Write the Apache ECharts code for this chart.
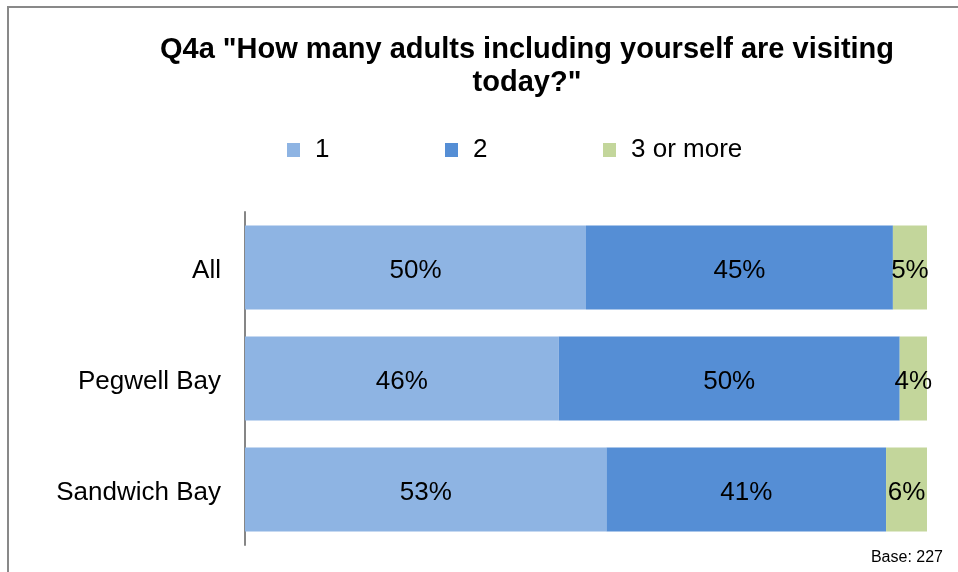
<!DOCTYPE html>
<html>
<head>
<meta charset="utf-8">
<script src="https://cdn.jsdelivr.net/npm/echarts@6/dist/echarts.min.js"></script>
<style>
  html, body { margin: 0; padding: 0; background: #fff; }
  #chart { width: 958px; height: 572px; }
</style>
</head>
<body>
<div id="chart"></div>
<script>
// Share of visiting groups by number of adults, per site
var categories = ['All', 'Pegwell Bay', 'Sandwich Bay'];
var seriesNames = ['1', '2', '3 or more'];
var oneAdult = [50, 46, 53];
var twoAdults = [45, 50, 41];
var threePlus = [5, 4, 6];
var baseNote = 'Base: 227';

var colors = ['#8EB4E3', '#558ED5', '#C3D69B'];
var font = "'Liberation Sans', Arial, sans-serif";

function barSeries(name, values, color) {
  return {
    name: name,
    type: 'bar',
    stack: 'total',
    data: values,
    barWidth: 84,
    itemStyle: { color: color },
    label: {
      show: true,
      position: 'inside',
      offset: [0, 3],
      formatter: '{c}%',
      color: '#000',
      fontFamily: font,
      fontSize: 26
    },
    emphasis: { disabled: true }
  };
}

function legendAt(x, name) {
  return {
    data: [name],
    left: x,
    top: 132,
    icon: 'rect',
    itemWidth: 13,
    itemHeight: 14,
    selectedMode: false,
    textStyle: {
      fontFamily: font,
      fontSize: 26,
      color: '#000',
      padding: [0, 0, 0, 10]
    }
  };
}

var chart = echarts.init(document.getElementById('chart'), null, { renderer: 'canvas' });
chart.setOption({
  animation: false,
  color: colors,
  title: {
    text: 'Q4a "How many adults including yourself are visiting\ntoday?"',
    left: 522,
    top: 28,
    textAlign: 'center',
    textStyle: {
      fontFamily: font,
      fontSize: 29,
      fontWeight: 'bold',
      color: '#000',
      lineHeight: 33
    }
  },
  legend: [
    legendAt(282, seriesNames[0]),
    legendAt(440, seriesNames[1]),
    legendAt(598, seriesNames[2])
  ],
  grid: { left: 245, right: 31, top: 212, bottom: 27, containLabel: false },
  xAxis: {
    type: 'value',
    min: 0,
    max: 100,
    show: false
  },
  yAxis: {
    type: 'category',
    data: categories,
    inverse: true,
    axisLine: { show: true, lineStyle: { color: '#868686', width: 2 } },
    axisTick: { show: false },
    axisLabel: {
      margin: 24,
      formatter: '{cat|{value}}',
      rich: {
        cat: {
          fontFamily: font,
          fontSize: 26,
          color: '#000',
          padding: [7, 0, 0, 0]
        }
      }
    }
  },
  graphic: [
    {
      type: 'rect',
      shape: { x: 8, y: 7, width: 1200, height: 1000 },
      style: { fill: 'none', stroke: '#898989', lineWidth: 2 },
      silent: true,
      z: 100
    },
    {
      type: 'text',
      right: 15,
      top: 550,
      style: {
        text: baseNote,
        fontFamily: font,
        fontSize: 16,
        fill: '#000'
      }
    }
  ],
  series: [
    barSeries(seriesNames[0], oneAdult, colors[0]),
    barSeries(seriesNames[1], twoAdults, colors[1]),
    barSeries(seriesNames[2], threePlus, colors[2])
  ]
});
</script>
</body>
</html>
